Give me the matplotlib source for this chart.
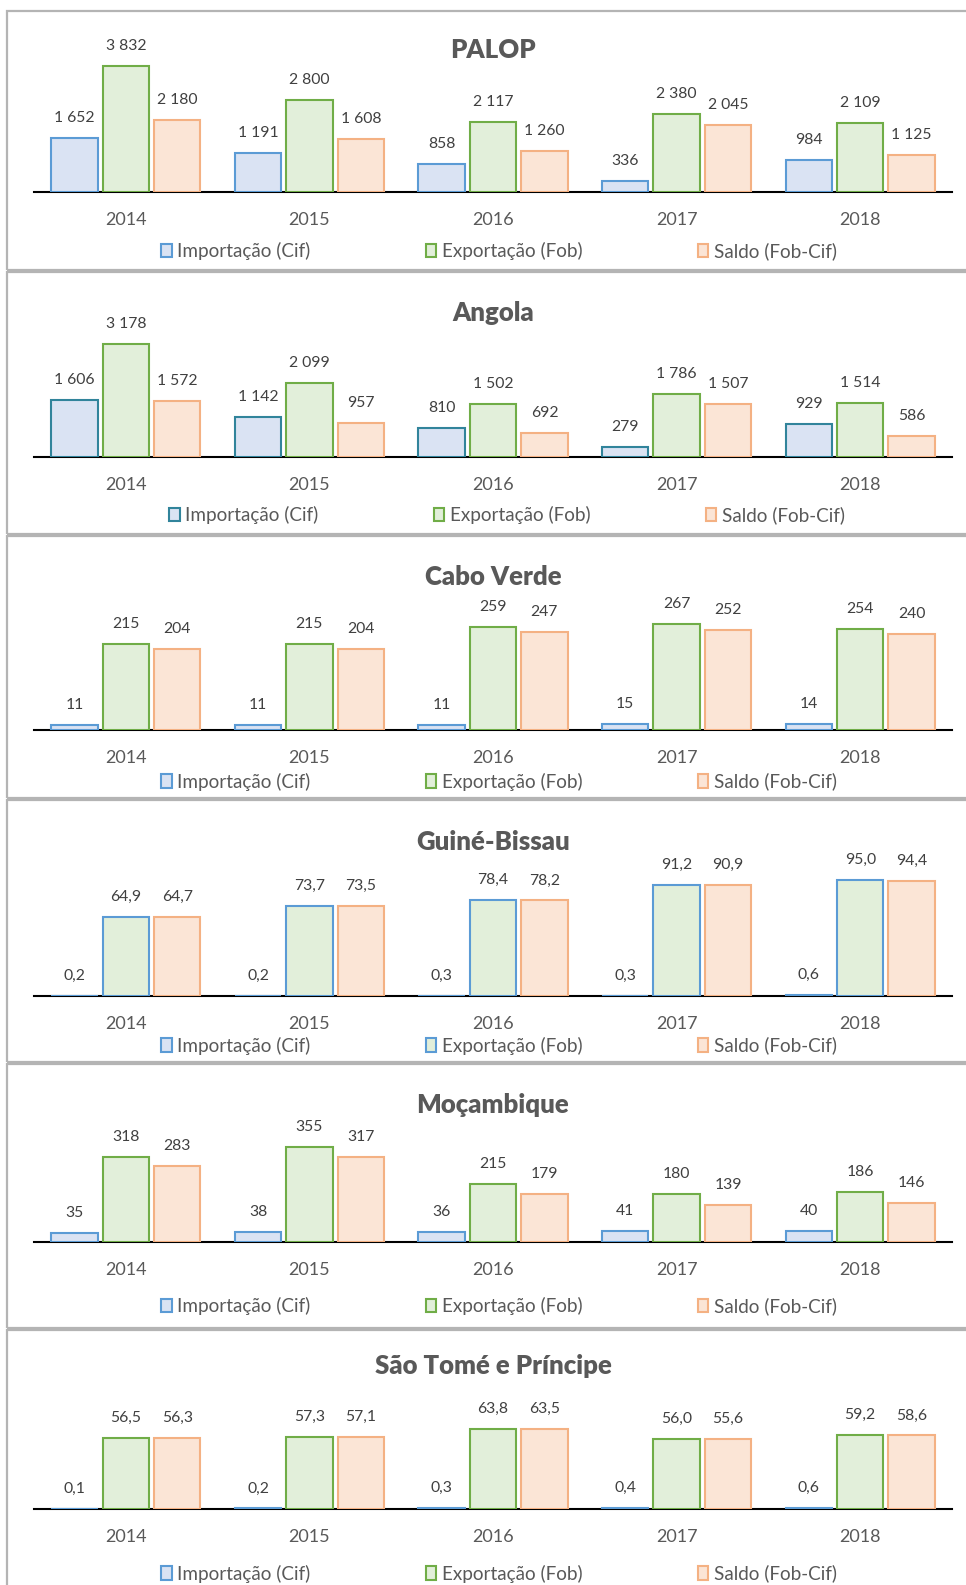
import matplotlib
matplotlib.use("Agg")
import matplotlib.pyplot as plt
from matplotlib.patches import Patch, Rectangle

plt.rcParams['font.family'] = ['Lato', 'DejaVu Sans']

years = ['2014', '2015', '2016', '2017', '2018']
series = ['Importação (Cif)', 'Exportação (Fob)', 'Saldo (Fob-Cif)']
titles = ['PALOP', 'Angola', 'Cabo Verde', 'Guiné-Bissau', 'Moçambique', 'São Tomé e Príncipe']

# importação, exportação, saldo por painel
palop_imp = [1652, 1191, 858, 336, 984]
palop_exp = [3832, 2800, 2117, 2380, 2109]
palop_sal = [2180, 1608, 1260, 2045, 1125]

angola_imp = [1606, 1142, 810, 279, 929]
angola_exp = [3178, 2099, 1502, 1786, 1514]
angola_sal = [1572, 957, 692, 1507, 586]

cv_imp = [11, 11, 11, 15, 14]
cv_exp = [215, 215, 259, 267, 254]
cv_sal = [204, 204, 247, 252, 240]

gb_imp = [0.2, 0.2, 0.3, 0.3, 0.6]
gb_exp = [64.9, 73.7, 78.4, 91.2, 95.0]
gb_sal = [64.7, 73.5, 78.2, 90.9, 94.4]

moz_imp = [35, 38, 36, 41, 40]
moz_exp = [318, 355, 215, 180, 186]
moz_sal = [283, 317, 179, 139, 146]

stp_imp = [0.1, 0.2, 0.3, 0.4, 0.6]
stp_exp = [56.5, 57.3, 63.8, 56.0, 59.2]
stp_sal = [56.3, 57.1, 63.5, 55.6, 58.6]

data = [(palop_imp, palop_exp, palop_sal), (angola_imp, angola_exp, angola_sal),
        (cv_imp, cv_exp, cv_sal), (gb_imp, gb_exp, gb_sal),
        (moz_imp, moz_exp, moz_sal), (stp_imp, stp_exp, stp_sal)]
decimals = [0, 0, 0, 1, 0, 1]
ymax = [4560, 4237, 378, 122.8, 560, 120]

# layout (pixels)
W, H = 966, 1585
baselines = [192, 457, 729.6, 996, 1242, 1508.7]
title_y = [49.5, 313, 577, 841.5, 1105, 1366]
legend_y = [251, 515, 781.5, 1045.5, 1306, 1573.5]
legend_x = [499, 507, 499, 499, 499, 499]
panel_tops = [11, 272, 536, 800, 1064, 1330]

fills = ['#dae3f3', '#e2efda', '#fbe5d6']
edges_default = ['#5b9bd5', '#70ad47', '#f4b183']
edges = [list(edges_default) for _ in titles]
edges[1][0] = '#31849b'
edges[3][1] = '#5b9bd5'

txt = '#595959'


def fmt(v, d):
    if d == 0:
        return f'{v:,.0f}'.replace(',', ' ')
    return f'{v:.{d}f}'.replace('.', ',')


fig = plt.figure(figsize=(W / 100, H / 100), dpi=100)

for i in range(6):
    top = panel_tops[i]
    bot = panel_tops[i + 1] - 2 if i < 5 else H + 20
    fig.patches.append(Rectangle((7 / W, 1 - bot / H), 1.2, (bot - top) / H,
                                 transform=fig.transFigure, fill=False,
                                 edgecolor='#b4b4b4', lw=1.6))

    ax = fig.add_axes([34 / W, 1 - baselines[i] / H, 918 / W, 150 / H])
    offs = [-0.28, 0, 0.28]
    for k in range(3):
        vals = data[i][k]
        xs = [j + offs[k] for j in range(5)]
        ax.bar(xs, vals, width=0.253, color=fills[k], edgecolor=edges[i][k], linewidth=1.5,
               zorder=3)
        for x, v in zip(xs, vals):
            ax.annotate(fmt(v, decimals[i]), (x, v), xytext=(0, 14.4), textcoords='offset points',
                        ha='center', va='center', fontsize=11.3, color='#404040')
    ax.set_xlim(-0.5, 4.5)
    ax.set_ylim(0, ymax[i])
    ax.set_xticks(range(5), years)
    ax.set_yticks([])
    ax.tick_params(axis='x', length=0, pad=14.5, labelsize=13, labelcolor=txt)
    for s in ['top', 'left', 'right']:
        ax.spines[s].set_visible(False)
    ax.spines['bottom'].set_color('black')
    ax.spines['bottom'].set_linewidth(1.5)
    ax.spines['bottom'].set_zorder(2)
    ax.patch.set_visible(False)

    fig.text(493 / W, 1 - title_y[i] / H, titles[i], ha='center', va='center',
             fontsize=18.5, fontweight='heavy', color=txt)

    handles = [Patch(facecolor=fills[k], edgecolor=edges[i][k], linewidth=1.5) for k in range(3)]
    fig.legend(handles, series, loc='center', bbox_to_anchor=(legend_x[i] / W, 1 - legend_y[i] / H),
               ncol=3, frameon=False, fontsize=13.6, labelcolor=txt, columnspacing=6.1,
               handlelength=0.55, handleheight=0.75, handletextpad=0.3, borderpad=0)

fig.savefig('out.png', dpi=100)
